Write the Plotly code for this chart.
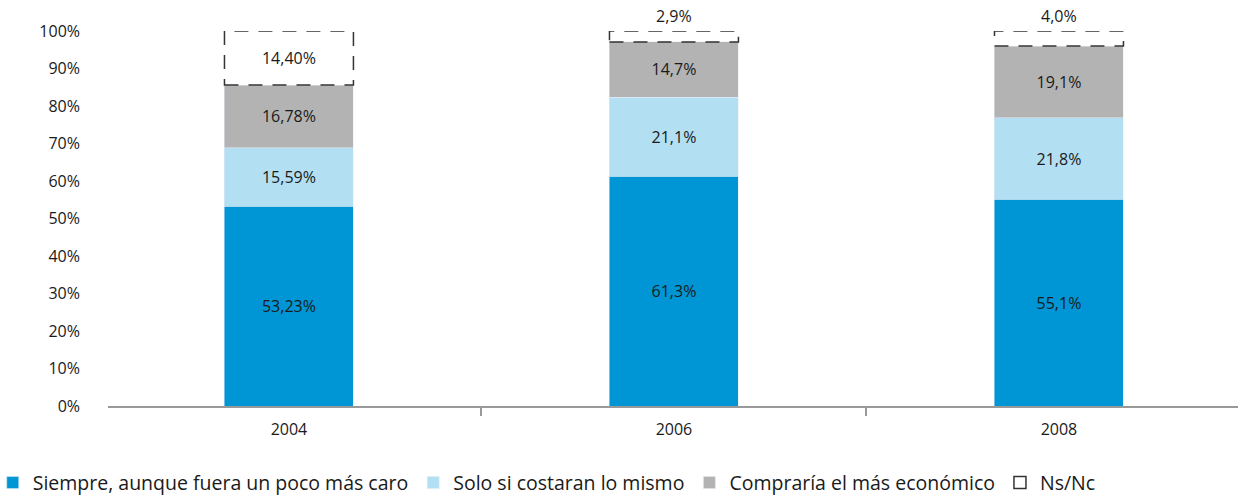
import plotly.graph_objects as go

years = ["2004", "2006", "2008"]
siempre = [53.23, 61.3, 55.1]
solo = [15.59, 21.1, 21.8]
compraria = [16.78, 14.7, 19.1]
nsnc = [14.40, 2.9, 4.0]

siempre_txt = ["53,23%", "61,3%", "55,1%"]
solo_txt = ["15,59%", "21,1%", "21,8%"]
compraria_txt = ["16,78%", "14,7%", "19,1%"]
nsnc_txt = ["14,40%", "2,9%", "4,0%"]

font_family = "Open Sans"
bar_width = 0.335
txt_font = dict(family=font_family, size=16, color="#1a1a1a")

fig = go.Figure()

fig.add_trace(go.Bar(x=years, y=siempre, name="Siempre, aunque fuera un poco más caro",
                     marker=dict(color="#0096d6"), text=siempre_txt, textposition="inside",
                     insidetextanchor="middle", textfont=txt_font, width=bar_width))
fig.add_trace(go.Bar(x=years, y=solo, name="Solo si costaran lo mismo",
                     marker=dict(color="#b3dff3"), text=solo_txt, textposition="inside",
                     insidetextanchor="middle", textfont=txt_font, width=bar_width))
fig.add_trace(go.Bar(x=years, y=compraria, name="Compraría el más económico",
                     marker=dict(color="#b3b3b3"), text=compraria_txt, textposition="inside",
                     insidetextanchor="middle", textfont=txt_font, width=bar_width))

# Ns/Nc: label inside when the segment is tall enough, above it otherwise
inside_txt = [t if v > 8 else "" for t, v in zip(nsnc_txt, nsnc)]
fig.add_trace(go.Bar(x=years, y=nsnc, name="Ns/Nc", showlegend=False,
                     marker=dict(color="rgba(255,255,255,0)", line=dict(width=0)),
                     text=inside_txt, textposition="inside",
                     insidetextanchor="middle", textfont=txt_font, width=bar_width))

for i in range(len(years)):
    base = round(siempre[i] + solo[i] + compraria[i], 6)
    top = round(base + nsnc[i], 6)
    fig.add_shape(type="rect", xref="x", yref="y",
                  x0=i - bar_width / 2, x1=i + bar_width / 2, y0=base, y1=top,
                  line=dict(color="#333333", width=1.5, dash="14px,10px"),
                  name="Ns/Nc", legendgroup="nsnc", showlegend=(i == 0), legendrank=2000)
    if nsnc[i] <= 8:
        fig.add_annotation(x=i, y=top, xref="x", yref="y", text=nsnc_txt[i],
                           showarrow=False, yanchor="bottom", yshift=2, font=txt_font)

fig.update_layout(
    barmode="stack",
    width=1238, height=495,
    margin=dict(l=108, r=0, t=31, b=89, autoexpand=False),
    plot_bgcolor="white", paper_bgcolor="white",
    font=dict(family=font_family, size=14, color="#1a1a1a"),
    xaxis=dict(type="category", range=[-0.47, 2.465], showline=True, linecolor="#999999",
               linewidth=2, ticks="outside", tickson="boundaries", ticklen=8,
               tickcolor="#999999", tickwidth=2, showgrid=False, tickfont=dict(size=16),
               ticklabelstandoff=8, automargin=False),
    yaxis=dict(range=[0, 100], dtick=10, ticksuffix="%", showgrid=False, zeroline=False,
               showline=False, tickfont=dict(size=16), ticklabelstandoff=27,
               automargin=False),
    legend=dict(orientation="h", x=-0.102, xanchor="left", y=-0.205, yanchor="middle",
                font=dict(size=19.5), itemwidth=30, traceorder="normal"),
)

fig.write_html("out.html", config={"displayModeBar": False},
               post_script="document.body.style.margin='0';")
